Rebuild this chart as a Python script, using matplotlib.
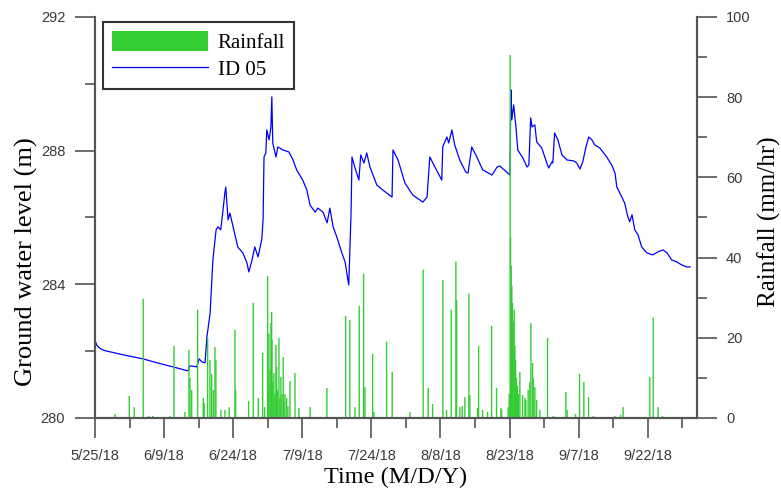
import numpy as np
import pandas as pd
import matplotlib
matplotlib.use("Agg")
import matplotlib.pyplot as plt
import matplotlib.dates as mdates
from matplotlib.patches import Patch
from matplotlib.lines import Line2D

# Series start date (days below are offsets from this)
start = pd.Timestamp("2018-05-25")

# Ground water level, well ID 05 (days since start, level in m)
gw_day = [0.0, 0.4, 1.0, 2.0, 6.1, 10.4, 13.5, 16.9, 20.2, 20.6, 22.1, 22.6, 23.2, 23.9,
          24.3, 25.0, 25.6, 26.3, 26.7, 27.3, 27.8, 28.2, 28.4, 28.9, 29.3, 30.0,
          31.0, 32.1, 33.0, 33.4, 34.1, 34.7, 35.4, 36.2, 36.5, 36.7, 37.1, 37.3,
          37.8, 38.2, 38.4, 38.6, 39.3, 39.7, 40.8, 42.1, 43.0, 43.8, 45.1, 46.0,
          46.7, 47.8, 48.4, 49.5, 50.4, 51.0, 51.7, 52.5, 53.6, 54.3, 55.1, 55.6,
          55.8, 56.4, 57.3, 57.7, 58.4, 59.0, 59.7, 61.2, 62.5, 64.5, 64.7, 65.8,
          67.3, 69.0, 71.2, 72.1, 72.7, 73.8, 75.3, 75.5, 76.4, 76.8, 77.5, 78.1,
          79.2, 80.5, 81.0, 81.8, 82.9, 84.2, 86.2, 87.3, 87.9, 90.1, 90.3, 90.5,
          90.9, 91.4, 91.8, 92.9, 93.8, 94.2, 94.6, 94.9, 95.5, 95.9, 97.0, 98.1,
          98.5, 99.2, 99.4, 99.8, 100.5, 101.4, 102.5, 104.0, 104.6, 105.3, 105.9,
          106.6, 107.2, 107.9, 108.5, 109.6, 111.1, 112.2, 112.9, 113.3, 114.4,
          115.0, 115.7, 116.1, 116.6, 117.2, 117.9, 118.7, 119.8, 121.1, 122.2,
          123.3, 124.2, 125.2, 126.3, 127.4, 128.5, 129.2]
gw_level = [282.32, 282.18, 282.09, 282.02, 281.89, 281.77, 281.65, 281.53, 281.41, 281.56,
            281.53, 281.77, 281.68, 281.65, 282.42, 283.14, 284.73, 285.63, 285.72,
            285.63, 286.22, 286.73, 286.91, 285.93, 286.13, 285.72, 285.12, 284.94,
            284.64, 284.37, 284.73, 285.12, 284.82, 285.33, 285.93, 287.81, 287.93,
            288.62, 288.32, 288.71, 289.61, 288.23, 287.81, 288.11, 288.02, 287.96,
            287.72, 287.42, 287.12, 286.82, 286.37, 286.16, 286.28, 286.16, 285.84,
            286.28, 285.72, 285.42, 284.94, 284.67, 283.98, 286.13, 287.81, 287.51,
            287.12, 287.87, 287.63, 287.93, 287.51, 286.97, 286.82, 286.61, 288.02,
            287.72, 287.03, 286.67, 286.46, 286.61, 287.81, 287.51, 287.12, 288.11,
            288.41, 288.23, 288.62, 288.17, 287.72, 287.36, 287.33, 288.11, 287.81,
            287.42, 287.27, 287.51, 287.54, 287.27, 289.82, 288.92, 289.37, 288.71,
            288.02, 287.78, 287.51, 287.57, 288.98, 288.71, 288.77, 288.26, 288.08,
            287.63, 287.48, 287.66, 287.63, 288.53, 288.32, 287.87, 287.72, 287.69,
            287.63, 287.45, 287.66, 288.11, 288.41, 288.32, 288.17, 288.08, 287.81,
            287.57, 287.33, 286.91, 286.61, 286.43, 286.02, 285.87, 286.08, 285.63,
            285.48, 285.12, 284.94, 284.88, 284.97, 285.03, 284.94, 284.73, 284.67,
            284.58, 284.52, 284.52]

# Hourly rainfall (days since start, mm/hr)
rain_day = [4.34, 7.45, 8.53, 10.48, 11.66, 12.52, 16.28, 17.15, 19.54, 20.40, 20.62,
            20.99, 22.29, 23.51, 23.72, 24.46, 24.96, 25.33, 25.68, 26.05, 26.26,
            27.35, 28.22, 29.15, 30.39, 30.54, 33.36, 34.36, 35.45, 36.40, 36.84,
            37.49, 37.60, 37.77, 38.00, 38.20, 38.36, 38.42, 38.64, 38.85, 39.07,
            39.29, 39.44, 39.65, 39.94, 40.16, 40.37, 40.59, 40.87, 41.02, 41.24,
            41.61, 41.89, 42.33, 43.42, 44.28, 46.73, 50.36, 54.42, 55.35, 56.44,
            57.37, 58.32, 58.61, 60.28, 60.56, 63.32, 64.53, 68.37, 71.26, 72.35,
            73.30, 75.54, 76.34, 77.34, 78.36, 78.51, 79.23, 79.73, 80.31, 81.18,
            81.40, 83.07, 83.29, 84.16, 85.24, 86.11, 87.19, 88.13, 88.28, 89.71,
            89.93, 90.15, 90.23, 90.36, 90.51, 90.66, 90.80, 91.02, 91.17, 91.32,
            91.49, 91.71, 91.92, 92.25, 92.84, 93.34, 93.55, 94.05, 94.42, 94.64,
            95.01, 95.14, 95.51, 95.88, 96.59, 98.26, 99.48, 102.24, 102.52, 104.34,
            105.21, 106.14, 107.16, 108.16, 112.87, 114.11, 114.67, 120.47, 121.19,
            122.27, 123.22]
rain_mm = [1.0, 5.5, 2.7, 29.7, 0.5, 0.5, 0.5, 18.0, 1.5, 17.0, 10.0,
           7.0, 27.0, 5.0, 3.7, 20.0, 14.5, 11.0, 7.0, 17.7, 14.5,
           2.0, 2.0, 2.7, 22.0, 7.0, 4.2, 28.7, 5.0, 16.2, 2.7,
           35.4, 8.0, 21.0, 12.0, 23.7, 26.4, 19.5, 9.0, 11.2, 6.0,
           18.2, 12.7, 7.0, 20.0, 5.0, 10.2, 6.0, 15.2, 4.0, 6.0,
           5.0, 3.0, 9.2, 11.2, 2.5, 2.7, 7.5, 25.4, 24.4, 2.7,
           28.0, 36.0, 7.7, 16.0, 1.5, 19.0, 11.5, 1.5, 37.0, 7.5,
           3.5, 34.4, 2.0, 27.0, 39.0, 29.4, 2.7, 3.0, 5.2, 31.0,
           5.7, 2.5, 18.0, 2.0, 1.5, 23.0, 7.5, 2.5, 2.0, 2.7,
           6.0, 90.5, 45.0, 38.0, 33.0, 28.7, 24.0, 27.0, 18.0, 14.5,
           10.0, 8.0, 6.0, 11.5, 5.7, 5.0, 4.5, 7.0, 9.0, 23.7,
           13.7, 10.0, 7.7, 4.5, 2.0, 20.0, 0.5, 6.5, 2.0, 1.0,
           11.0, 9.0, 5.2, 0.5, 0.5, 0.8, 2.7, 10.2, 25.0,
           2.7, 0.5]

gw_t = start + pd.to_timedelta(gw_day, unit="D")
rain_t = start + pd.to_timedelta(rain_day, unit="D")

green = "#33cc33"
blue = "#0000ff"
grey = "#555555"
serif = "Liberation Serif"
sans = "Liberation Sans"

fig = plt.figure(figsize=(7.81, 4.96), dpi=100)
ax = fig.add_axes([0.1216, 0.1573, 0.7708, 0.8085])
ax2 = ax.twinx()

ax.plot(gw_t, gw_level, color=blue, lw=0.9)
ax2.axhline(0, color=green, lw=1.2)
bars = ax2.bar(rain_t, rain_mm, width=0.3, color=green, lw=0, align="center")
for b in bars:
    b.set_snap(False)  # keep thin bars evenly antialiased

# axes ranges
ax.set_xlim(start, start + pd.Timedelta(days=130.7))
ax.set_ylim(280, 292)
ax2.set_ylim(0, 100)

# ticks
ax.set_xticks(pd.date_range(start, periods=9, freq="15D"))
ax.set_xticks(pd.date_range(start + pd.Timedelta(hours=180), periods=9, freq="15D"), minor=True)
ax.xaxis.set_major_formatter(plt.FuncFormatter(
    lambda v, pos: "{d.month}/{d.day}/{y}".format(d=mdates.num2date(v), y=mdates.num2date(v).year % 100)))
ax.set_yticks([280, 284, 288, 292])
ax.set_yticks([282, 286, 290], minor=True)
ax2.set_yticks([0, 20, 40, 60, 80, 100])
ax2.set_yticks([10, 30, 50, 70, 90], minor=True)

for a in (ax, ax2):
    a.tick_params(which="major", length=14.4, width=1.2, color=grey, labelsize=10.5,
                  labelcolor="#3a3a3a", direction="out")
    a.tick_params(which="minor", length=7.2, width=1.2, color=grey, direction="out")
    for lab in a.get_xticklabels() + a.get_yticklabels():
        lab.set_family(sans)
    for s in a.spines.values():
        s.set_color(grey)
        s.set_linewidth(1.5)
    a.spines["top"].set_visible(False)
ax.tick_params(axis="x", pad=8)
ax.tick_params(axis="y", pad=7)
ax2.tick_params(axis="y", pad=6.5)

# labels
ax.set_xlabel("Time (M/D/Y)", fontfamily=serif, fontsize=17.5)
ax.xaxis.set_label_coords(0.5, -0.122)
ax.set_ylabel("Ground water level (m)", fontfamily=serif, fontsize=19)
ax.yaxis.set_label_coords(-0.095, 0.39)
ax2.set_ylabel("Rainfall (mm/hr)", fontfamily=serif, fontsize=18)
ax2.yaxis.set_label_coords(1.101, 0.49)

# legend
handles = [Patch(facecolor=green, edgecolor="none"), Line2D([], [], color=blue, lw=0.9)]
leg = ax2.legend(handles, ["Rainfall", "ID 05"], loc="upper left",
                 bbox_to_anchor=(0.0133, 0.9875), borderaxespad=0,
                 prop={"family": serif, "size": 15}, fancybox=False,
                 edgecolor="#333333", framealpha=1, handlelength=4.6,
                 handleheight=1.05, labelspacing=0.25, borderpad=0.45,
                 handletextpad=0.45)
leg.get_frame().set_linewidth(1.5)

fig.savefig("out.png", dpi=100)
